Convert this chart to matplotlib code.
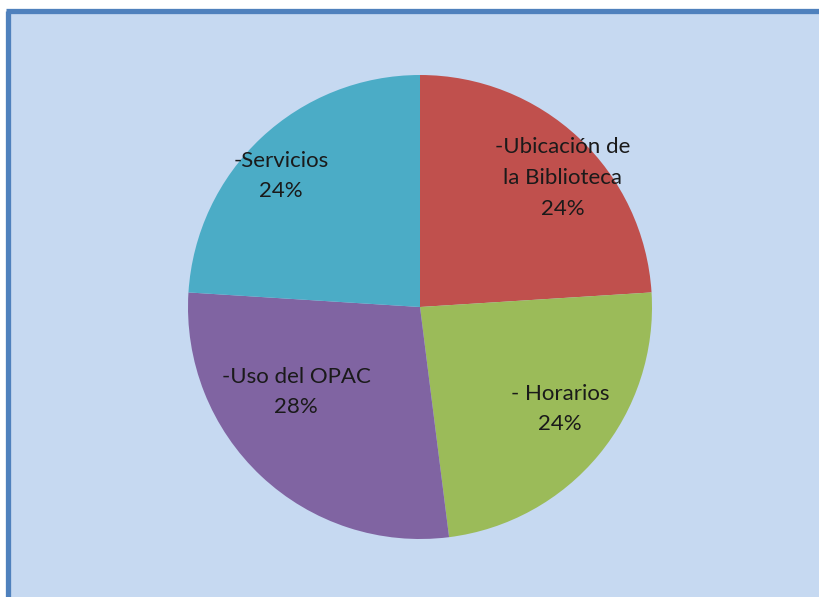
import matplotlib.pyplot as plt
from matplotlib.patches import Rectangle

labels = ["-Ubicación de\nla Biblioteca", "- Horarios", "-Uso del OPAC", "-Servicios"]
values = [24, 24, 28, 24]
colors = ["#C0504D", "#9BBB59", "#8064A2", "#4BACC6"]
# label centres in pixel coords (x, y from top)
label_pos = [(563, 178), (560, 409), (296, 392), (281, 176)]

W, H = 820, 597
fig = plt.figure(figsize=(W / 100, H / 100), dpi=100)
fig.patch.set_facecolor("white")

ax = fig.add_axes([0, 0, 1, 1])
ax.set_xlim(0, W)
ax.set_ylim(0, H)
ax.axis("off")

# background panel with blue border on top and left
ax.add_patch(Rectangle((8, -5), W, H - 10 + 5, facecolor="#C6D9F1", edgecolor="none", zorder=0))
ax.plot([8.5, 8.5], [-5, H - 10.5], color="#4F81BD", lw=3.8, solid_capstyle="butt", zorder=1)
ax.plot([6.5, W + 5], [H - 10.5, H - 10.5], color="#4F81BD", lw=3.8, solid_capstyle="butt", zorder=1)

cx, cy, r = 420, H - 307, 232
ax.pie(values, colors=colors, startangle=90, counterclock=False,
       center=(cx, cy), radius=r, frame=True,
       wedgeprops=dict(linewidth=0))
ax.set_xlim(0, W)
ax.set_ylim(0, H)
ax.set_aspect("equal")
ax.axis("off")

total = sum(values)
for lab, v, (px, py) in zip(labels, values, label_pos):
    ax.text(px, H - py, f"{lab}\n{round(100 * v / total)}%", ha="center", va="center",
            fontsize=16, family="Lato", color="#1a1a1a", linespacing=1.68, zorder=5)

plt.savefig("out.png", dpi=100)
plt.close()
